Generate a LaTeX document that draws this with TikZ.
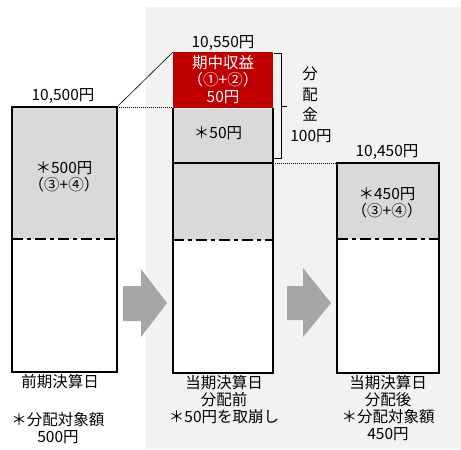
\documentclass[tikz,border=0pt]{standalone}
\usepackage{fontspec}
\setmainfont{Noto Sans CJK JP}
\begin{document}
\begin{tikzpicture}[x=1pt,y=-1pt,
  txt/.style={inner sep=0pt, align=center, font=\fontsize{15.5}{17}\selectfont},
  wtxt/.style={txt, text=white},
  boxline/.style={draw=black, line width=1.3pt},
  dashdot/.style={draw=black, line width=2pt, dash pattern=on 11pt off 4pt on 4pt off 4pt},
  dotline/.style={draw=black, line width=0.6pt, dash pattern=on 1pt off 1pt},
  bigarrow/.style={fill=arrowgray, draw=none}]
\definecolor{panel}{HTML}{F2F2F2}
\definecolor{boxgray}{HTML}{D9D9D9}
\definecolor{arrowgray}{HTML}{A6A6A6}
\definecolor{darkred}{HTML}{C00000}
\useasboundingbox (0,0) rectangle (461,450);
\fill[white] (0,0) rectangle (461,450);
% panel
\fill[panel] (146,7) rectangle (461,449);
% coordinates
\coordinate (b1tr) at (117,107);
\coordinate (b2tl) at (173,52);
\coordinate (b2ml) at (173,107);
\coordinate (b2mr) at (273,163);
\coordinate (b3tl) at (337,163);
% box 1
\fill[boxgray] (12,107) rectangle (117,239);
\fill[white] (12,239) rectangle (117,372);
\draw[dashdot] (12,239) -- (117,239);
\draw[boxline] (12,107) rectangle (117,372);
% box 2
\fill[darkred] (173,52) rectangle (273,108);
\fill[boxgray] (173,108) rectangle (273,240);
\fill[white] (173,240) rectangle (273,373);
\draw[white, line width=0.8pt, dash pattern=on 1.5pt off 1.5pt] (173,108) -- (273,108);
\draw[black, line width=1.5pt] (173,163) -- (273,163);
\draw[dashdot] (173,240) -- (273,240);
\draw[boxline] (173,108) -- (173,373) -- (273,373) -- (273,108);
% box 3
\fill[boxgray] (337,163) rectangle (439,239);
\fill[white] (337,239) rectangle (439,373);
\draw[dashdot] (337,239) -- (439,239);
\draw[boxline] (337,163) rectangle (439,373);
% connectors
\draw[dotline] (b1tr) -- (b2ml);
\draw[black, line width=0.6pt] (b1tr) -- (b2tl);
\draw[dotline] (b2mr) -- (b3tl);
% brace
\draw[black, line width=0.8pt] (274,53) -- (281,53) -- (281,158) -- (274,158);
\draw[black, line width=0.8pt] (281,106) -- (287,106);
% arrows
\fill[bigarrow] (123,286) -- (141,286) -- (141,269) -- (167,303) -- (141,337) -- (141,321) -- (123,321) -- cycle;
\fill[bigarrow] (287,286) -- (303,286) -- (303,268) -- (331,303) -- (303,337) -- (303,320) -- (287,320) -- cycle;
% texts box 1
\node[txt] (t1) at (63,96) {10,500円};
\node[txt] (t2) at (64,177) {＊500円\\（③+④）};
\node[txt] (t3) at (60,382) {前期決算日};
\node[txt] (t4) at (58,428) {＊分配対象額\\500円};
% box 2
\node[txt] (t5) at (223,43) {10,550円};
\node[wtxt] (t6) at (223,80) {期中収益\\（①+②）\\50円};
\node[txt] (t7) at (218,133) {＊50円};
\node[txt] (t8) at (224,400) {当期決算日\\分配前\\＊50円を取崩し};
\node[txt, font=\fontsize{15.5}{20.5}\selectfont] (t9) at (310,94) {分\\配\\金};
\node[txt] (t10) at (311,136) {100円};
% box 3
\node[txt] (t11) at (387,152) {10,450円};
\node[txt] (t12) at (387,203) {＊450円\\（③+④）};
\node[txt] (t13) at (388,408) {当期決算日\\分配後\\＊分配対象額\\450円};
\end{tikzpicture}
\end{document}
